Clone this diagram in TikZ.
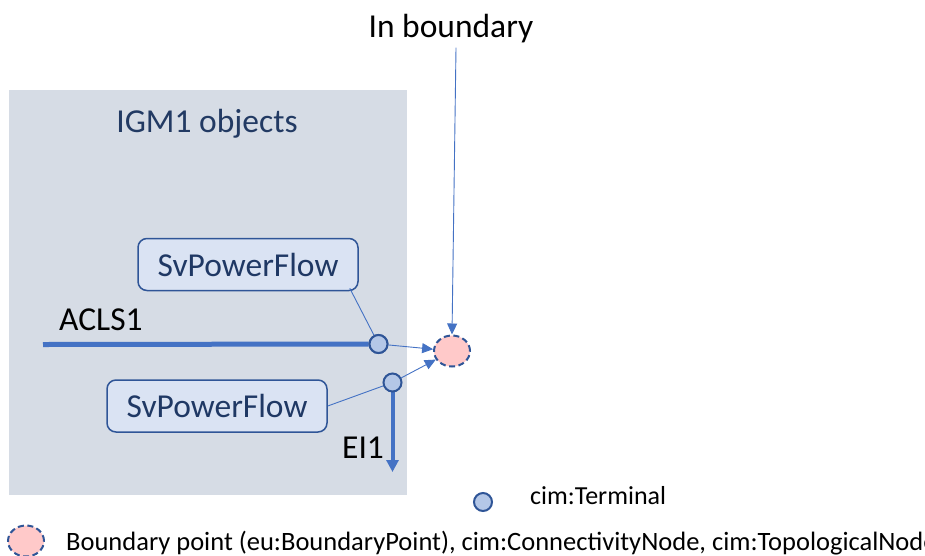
\documentclass[tikz,border=0pt]{standalone}
\usepackage{fontspec}
\setmainfont{Carlito}
\usetikzlibrary{arrows.meta,shapes.geometric}
\definecolor{areafill}{HTML}{D6DCE5}
\definecolor{boxfill}{HTML}{DAE3F3}
\definecolor{navy}{HTML}{2F5597}
\definecolor{linkblue}{HTML}{4472C4}
\definecolor{termfill}{HTML}{B4C7E7}
\definecolor{bpfill}{HTML}{FFC9C9}
\definecolor{titletext}{HTML}{223A63}
\definecolor{boxtext}{HTML}{1F3864}
\begin{document}
\begin{tikzpicture}[x=1pt,y=-1pt,
  big/.style={font=\fontsize{33.5}{40}\selectfont},
  small/.style={font=\fontsize{26}{31}\selectfont},
  label/.style={inner sep=0pt, anchor=base west},
  flowbox/.style={draw=navy, line width=1.5pt, fill=boxfill, rounded corners=9pt,
    minimum width=220pt, minimum height=52pt, inner sep=0pt, text=boxtext, big},
  terminal/.style={circle, draw=navy, line width=2pt, fill=termfill,
    minimum size=18pt, inner sep=0pt},
  bpoint/.style={ellipse, draw=navy, dash pattern=on 6pt off 3.5pt, line width=2pt,
    fill=bpfill, minimum width=36pt, minimum height=31pt, inner sep=0pt},
  thin/.style={draw=linkblue, line width=0.9pt},
  thinarrow/.style={thin, -{Triangle[length=11pt,width=10pt]}},
  bus/.style={draw=linkblue, line width=5pt},
  busarrow/.style={draw=linkblue, line width=4pt, -{Triangle[length=12pt,width=12pt]}},
]
\useasboundingbox (0,0) rectangle (925,555);

% IGM1 area
\fill[areafill] (9,90) rectangle (407,495);
\node[big, text=titletext, inner sep=0pt, anchor=base] (igm) at (207,132) {IGM1 objects};

% headline
\node[big, inner sep=0pt, anchor=base] (inb) at (451,37) {In boundary};

% equipment and terminals
\coordinate (aclsstart) at (43,344.5);
\coordinate (eiend) at (392.5,472);
\node[label, big] (acls) at (59,330) {ACLS1};
\node[label, big] (ei) at (342,458) {EI1};

\node[flowbox] (box1) at (248,264.5) {SvPowerFlow};
\node[flowbox] (box2) at (217,406) {SvPowerFlow};

\node[terminal] (t1) at (378.5,344) {};
\draw[bus] (aclsstart) -- (t1.west);
\node[terminal] (t1) at (378.5,344) {};
\draw[busarrow] (392.5,391) -- (eiend);
\node[terminal] (t2) at (392.5,382.5) {};

\node[bpoint] (bp) at (452,351) {};

% associations
\draw[thin] ([xshift=-9pt,yshift=3pt]box1.south east) -- (t1);
\draw[thin] (box2.east) -- (t2);
\draw[thinarrow] (t1) -- (bp);
\draw[thinarrow] (t2) -- (bp);
\draw[thinarrow] ([xshift=5pt,yshift=-5pt]inb.south) -- (bp.north);

% legend
\node[terminal] (legt) at (483,502) {};
\node[label, small] (legtext) at (530,504) {cim:Terminal};
\node[bpoint] (legbp) at (26,541) {};
\node[label, font=\fontsize{26.5}{31}\selectfont] (legbptext) at (66,550) {Boundary point (eu:BoundaryPoint), cim:ConnectivityNode, cim:TopologicalNode};
\end{tikzpicture}
\end{document}
